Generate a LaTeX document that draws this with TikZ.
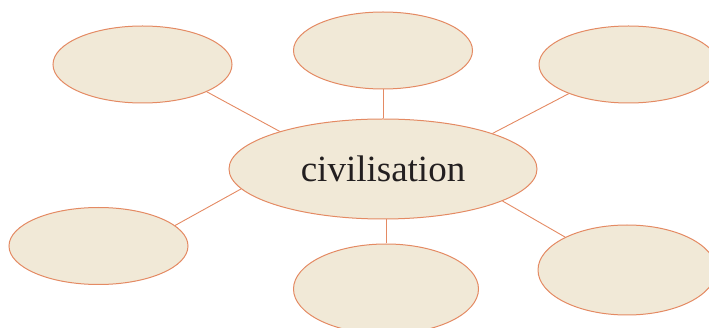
\documentclass[tikz,border=0pt]{standalone}
\usepackage{fontspec}
\setmainfont{Liberation Serif}
\usetikzlibrary{shapes.geometric}

\definecolor{bubblefill}{HTML}{F1E9D7}
\definecolor{bubbleline}{HTML}{E48A63}
\definecolor{bubbletext}{HTML}{231F20}

\begin{document}
\begin{tikzpicture}[
    x=1pt, y=-1pt,
    hub/.style={ellipse, draw=bubbleline, fill=bubblefill, line width=1pt, inner sep=0pt, minimum width=308pt, minimum height=100pt, text=bubbletext, font=\fontsize{37}{40}\selectfont},
    bubble/.style={ellipse, draw=bubbleline, fill=bubblefill, line width=1pt, inner sep=0pt, minimum width=179pt, minimum height=77pt},
    spoke/.style={draw=bubbleline, line width=0.9pt}
]
\useasboundingbox (0,0) rectangle (709,328);

% Centre Node
\node[hub] (civ) at (383, 169) {civilisation};

% Outer bubbles (left to right, top row then bottom row)
\node[bubble] (tl) at (142.5, 64.5) {};
\node[bubble] (tm) at (383, 50.5) {};
\node[bubble] (tr) at (628.5, 64.5) {};
\node[bubble] (bl) at (98.5, 246) {};
\node[bubble, minimum width=185pt, minimum height=90pt] (bm) at (386, 289) {};
\node[bubble, minimum width=178pt, minimum height=90pt] (br) at (627, 270) {};

% Spokes from the centre
\draw[spoke] (tl.-23) -- (civ.160);
\draw[spoke] (tm.south) -- (civ.north);
\draw[spoke] (tr.-154) -- (civ.18);
\draw[spoke] (bl.15) -- (civ.-172);
\draw[spoke] (civ.south -| bm.north) -- (bm.north);
\draw[spoke] (br.152) -- (civ.-15);

\end{tikzpicture}
\end{document}
